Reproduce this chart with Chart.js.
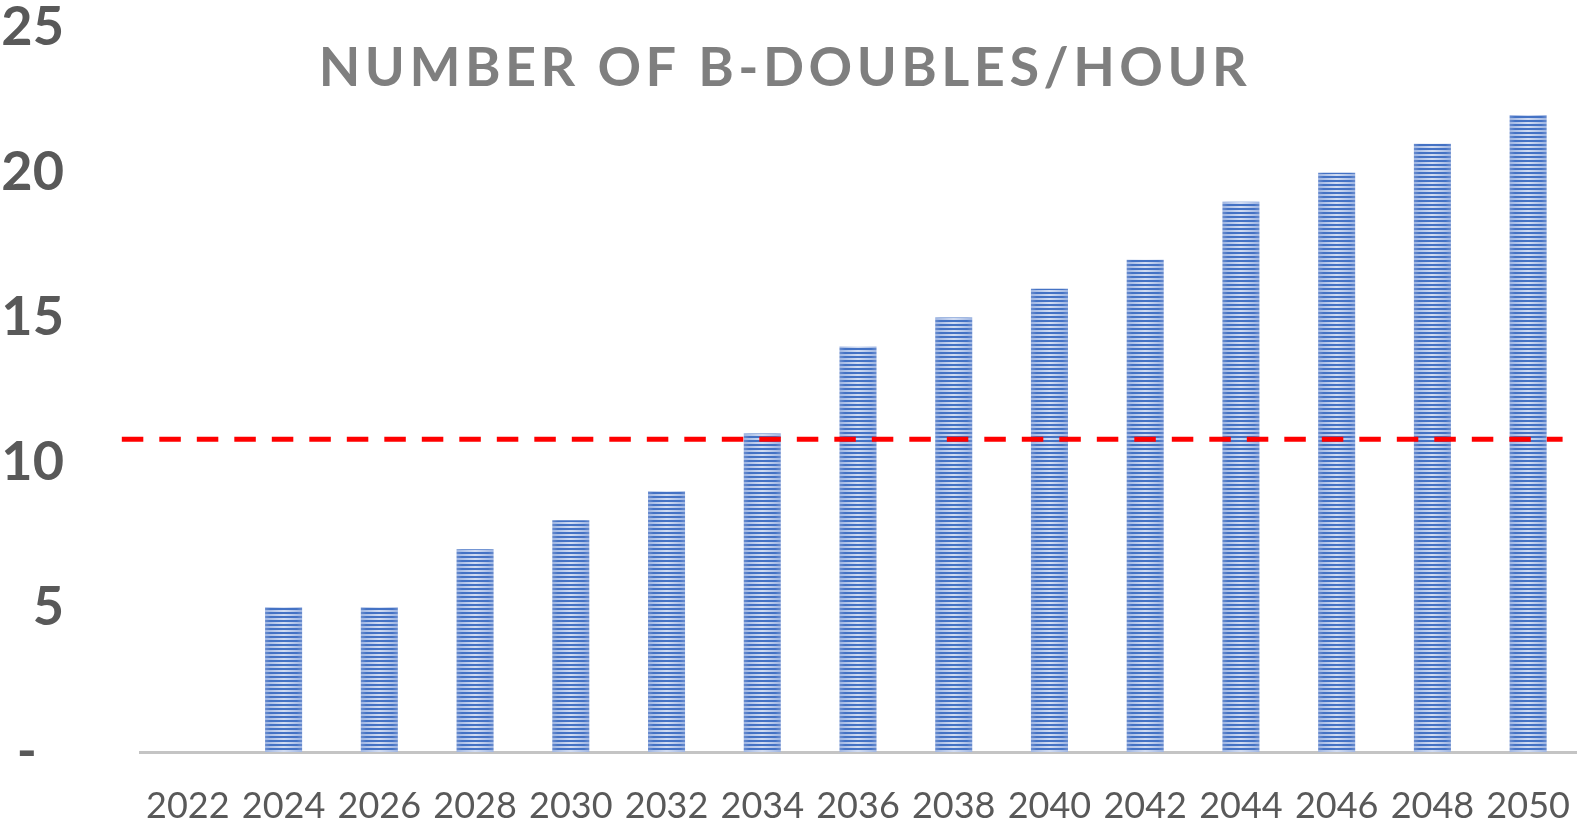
<!DOCTYPE html>
<html>
<head>
<meta charset="utf-8">
<script src="https://cdn.jsdelivr.net/npm/chart.js@4"></script>
<style>
  html, body { margin: 0; padding: 0; background: #fff; }
  #wrap { width: 1577px; height: 827px; }
</style>
</head>
<body>
<div id="wrap"><canvas id="barChart"></canvas></div>
<script>
// data
const years = ['2022', '2024', '2026', '2028', '2030', '2032', '2034', '2036',
               '2038', '2040', '2042', '2044', '2046', '2048', '2050'];
const bDoubles = [0, 5, 5, 7, 8, 9, 11, 14, 15, 16, 17, 19, 20, 21, 22];
const threshold = 10.8;
const thresholdSpan = [-0.69, 14.36]; // category units, the line runs past the bars
const yTicks = [0, 5, 10, 15, 20, 25];

const barPct = 0.387;

// horizontal stripes, a bit lighter towards the bar edges
function stripeFill(context) {
    const chart = context.chart;
    const xs = chart.scales.x;
    if (!xs || context.type !== 'data') return '#4472c4';
    const w = xs.width / years.length * barPct;
    const left = xs.getPixelForValue(context.dataIndex) - w / 2;
    if (!isFinite(w) || !isFinite(left) || w <= 0) return '#4472c4';
    const cv = document.createElement('canvas');
    cv.width = Math.ceil(w);
    cv.height = 4;
    const g = cv.getContext('2d');
    const light = g.createLinearGradient(0, 0, w, 0);
    light.addColorStop(0, '#9fb6e3');
    light.addColorStop(0.5, '#d2ddf3');
    light.addColorStop(1, '#9fb6e3');
    g.fillStyle = light;
    g.fillRect(0, 0, cv.width, 4);
    const dark = g.createLinearGradient(0, 0, w, 0);
    dark.addColorStop(0, '#6a8dcf');
    dark.addColorStop(0.15, '#4472c4');
    dark.addColorStop(0.85, '#4472c4');
    dark.addColorStop(1, '#6a8dcf');
    g.fillStyle = dark;
    g.fillRect(0, 0, cv.width, 2);
    const p = chart.ctx.createPattern(cv, 'repeat');
    p.setTransform(new DOMMatrix().translate(left, 0));
    return p;
}

// dashed threshold line, placed through the chart's own scales
const thresholdPlugin = {
    id: 'threshold',
    afterDatasetsDraw(chart) {
        const {x, y} = chart.scales;
        const c = chart.ctx;
        const py = y.getPixelForValue(threshold);
        c.save();
        c.strokeStyle = '#ff0000';
        c.lineWidth = 5;
        c.setLineDash([21.5, 16]);
        c.beginPath();
        c.moveTo(x.getPixelForValue(thresholdSpan[0]), py);
        c.lineTo(x.getPixelForValue(thresholdSpan[1]), py);
        c.stroke();
        c.restore();
    }
};

const titlePlugin = {
    id: 'chartTitle',
    afterDraw(chart) {
        const c = chart.ctx;
        c.save();
        c.font = 'bold 54px Lato';
        c.fillStyle = '#7f7f7f';
        c.letterSpacing = '4.5px';
        c.textAlign = 'center';
        c.textBaseline = 'middle';
        c.fillText('NUMBER OF B-DOUBLES/HOUR', 785, 69);
        c.restore();
    }
};

const ctx = document.getElementById('barChart').getContext('2d');
new Chart(ctx, {
    type: 'bar',
    data: {
        labels: years,
        datasets: [{
            data: bDoubles,
            backgroundColor: stripeFill,
            borderWidth: 0,
            barPercentage: barPct,
            categoryPercentage: 1
        }]
    },
    options: {
        responsive: true,
        maintainAspectRatio: false,
        animation: false,
        layout: { padding: { top: 0, right: 1, left: 0, bottom: 0 } },
        plugins: {
            legend: { display: false },
            tooltip: { enabled: false }
        },
        scales: {
            x: {
                afterFit(scale) {
                    scale.height = 75;
                    scale.paddingLeft = 0;
                    scale.paddingRight = 0;
                },
                grid: { display: false, drawTicks: false },
                border: { display: true, color: '#c4c4c4', width: 3 },
                ticks: {
                    autoSkip: false,
                    maxRotation: 0,
                    padding: 33,
                    color: '#595959',
                    font: { family: 'Lato', size: 36 }
                }
            },
            y: {
                min: 0,
                max: 25,
                afterBuildTicks(scale) {
                    scale.ticks = yTicks.map(v => ({ value: v }));
                },
                afterFit(scale) {
                    scale.width = 140;
                    scale.paddingTop = 28;
                    scale.paddingBottom = 0;
                },
                grid: { display: false, drawTicks: false },
                border: { display: false },
                ticks: {
                    padding: 76,
                    color: '#595959',
                    font: { family: 'Lato', size: 54, weight: 'bold', lineHeight: 1 },
                    callback: v => v === 0 ? '-\u2002' : v
                }
            }
        }
    },
    plugins: [thresholdPlugin, titlePlugin]
});
</script>
</body>
</html>
